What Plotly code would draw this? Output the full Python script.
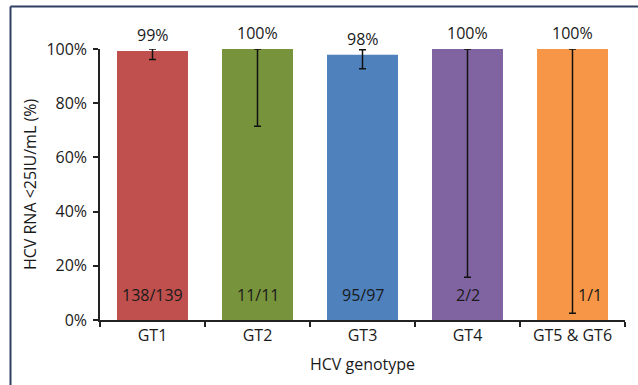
import plotly.graph_objects as go

categories = ["GT1", "GT2", "GT3", "GT4", "GT5 & GT6"]
values = [99.3, 100.0, 97.9, 100.0, 100.0]
ci_upper = [99.98, 100.0, 99.7, 100.0, 100.0]
ci_lower = [96.1, 71.5, 92.7, 15.8, 2.5]
top_labels = ["99%", "100%", "98%", "100%", "100%"]
count_labels = ["138/139", "11/11", "95/97", "2/2", "1/1"]
colors = ["#C0504D", "#77933C", "#4F81BD", "#8064A2", "#F79646"]
y_ticks = [0, 20, 40, 60, 80, 100]
y_tick_labels = ["0%", "20%", "40%", "60%", "80%", "100%"]

err_plus = [u - v for u, v in zip(ci_upper, values)]
err_minus = [v - l for v, l in zip(values, ci_lower)]

FONT = "Open Sans"
FS = 16
TXT = "#1a1a1a"

fig = go.Figure()
fig.add_trace(go.Bar(
    x=categories, y=values,
    marker=dict(color=colors, line=dict(width=0)),
    error_y=dict(type="data", symmetric=False, array=err_plus, arrayminus=err_minus,
                 color="#111111", thickness=1.5, width=3.5),
    hoverinfo="skip",
))

annotations = []
for c, v, t in zip(categories, values, top_labels):
    annotations.append(dict(x=c, y=v, xref="x", yref="y", text=t, showarrow=False,
                            yanchor="middle", yshift=16,
                            font=dict(family=FONT, size=FS, color=TXT)))
x_shifts = [0, 0, 0, 0, 17]
for c, t, s in zip(categories, count_labels, x_shifts):
    annotations.append(dict(x=c, y=9.2, xref="x", yref="y", text=t, showarrow=False,
                            yanchor="middle", xshift=s,
                            font=dict(family=FONT, size=FS, color=TXT)))

W, H = 638, 385
ml, mr, mt, mb = 100, 13, 49, 65
pw, ph = W - ml - mr, H - mt - mb
bx = (10.5 - ml) / pw
by = 1 + (mt - 6.5) / ph

fig.update_layout(
    width=W, height=H,
    margin=dict(l=ml, r=mr, t=mt, b=mb, pad=0),
    paper_bgcolor="white", plot_bgcolor="white",
    bargap=0.324,
    showlegend=False,
    font=dict(family=FONT, size=FS, color=TXT),
    annotations=annotations,
    xaxis=dict(
        type="category", range=[-0.5, 4.5],
        showline=True, linecolor="#222222", linewidth=1.5,
        ticks="outside", tickson="boundaries", ticklen=5, tickcolor="#222222", tickwidth=1.5,
        tickfont=dict(family=FONT, size=FS, color=TXT),
        title=dict(text="HCV genotype", font=dict(family=FONT, size=FS, color=TXT), standoff=14),
        showgrid=False, zeroline=False,
    ),
    yaxis=dict(
        range=[0, 100], tickvals=y_ticks, ticktext=y_tick_labels,
        showline=True, linecolor="#222222", linewidth=1.5,
        ticks="outside", ticklen=5, tickcolor="#222222", tickwidth=1.5,
        ticklabelstandoff=3,
        tickfont=dict(family=FONT, size=FS, color=TXT),
        title=dict(text="HCV RNA &lt;25IU/mL (%)", font=dict(family=FONT, size=FS, color=TXT), standoff=6),
        showgrid=False, zeroline=False,
    ),
    shapes=[
        dict(type="line", xref="paper", yref="paper", x0=bx, x1=1.2, y0=by, y1=by,
             line=dict(color="#2E3F63", width=2)),
        dict(type="line", xref="paper", yref="paper", x0=bx, x1=bx, y0=by, y1=-0.4,
             line=dict(color="#2E3F63", width=2)),
    ],
)

fig.write_html("out.html", config={"displayModeBar": False},
               post_script="document.body.style.margin='0';")
